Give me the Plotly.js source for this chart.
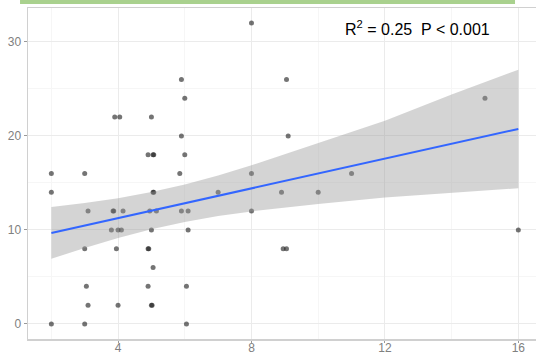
<!DOCTYPE html>
<html>
<head>
<meta charset="utf-8">
<script src="https://cdn.plot.ly/plotly-3.0.1.min.js"></script>
<style>html,body{margin:0;padding:0;background:#fff;}#chart{width:536px;height:354px;}</style>
</head>
<body>
<div id="chart"></div>
<script>
// Scatter points (x, y)
const pointX = [2, 2, 2, 3, 3, 3.05, 3, 3.1, 3.1, 3.85, 3.87, 4.15, 3.9, 4.05, 3.8, 4.0, 4.1, 3.95, 4.0,
  4.9, 5.05, 5.07, 5.0, 4.95, 5.15, 5.05, 5.07, 5.0, 4.9, 4.92, 5.05, 4.9, 5.0, 5.02,
  5.85, 5.9, 6.0, 5.9, 6.0, 5.9, 6.1, 6.1, 6.05, 6.05, 7, 8, 8, 8, 8.9, 9.05, 9.1, 8.95, 9.05, 10, 11, 15, 16];
const pointY = [16, 14, 0, 16, 8, 4, 0, 12, 2, 12, 12, 12, 22, 22, 10, 10, 10, 8, 2,
  18, 18, 18, 22, 12, 12, 14, 14, 10, 8, 8, 6, 4, 2, 2,
  16, 26, 24, 20, 18, 12, 12, 10, 4, 0, 14, 32, 16, 12, 14, 26, 20, 8, 8, 14, 16, 24, 10];

// Fitted line and confidence band
const fitX = [2, 3, 4, 5, 6, 7, 8, 10, 12, 14, 16];
const fitY = [9.68, 10.47, 11.26, 12.05, 12.84, 13.63, 14.42, 16.0, 17.58, 19.16, 20.74];
const bandUpper = [12.43, 12.86, 13.38, 14.03, 14.83, 15.79, 16.87, 19.25, 21.6, 24.4, 27.04];
const bandLower = [6.93, 8.08, 9.14, 10.07, 10.85, 11.47, 11.97, 12.75, 13.45, 13.95, 14.44];

const xTicks = [4, 8, 12, 16];
const yTicks = [0, 10, 20, 30];
const statLabel = 'R<sup>2</sup> = 0.25  P < 0.001';

const traces = [
  {
    x: pointX, y: pointY, type: 'scatter', mode: 'markers',
    marker: {size: 5, color: 'rgba(30,30,30,0.62)'},
    hoverinfo: 'skip', showlegend: false
  },
  {
    x: fitX.concat(fitX.slice().reverse()),
    y: bandUpper.concat(bandLower.slice().reverse()),
    type: 'scatter', mode: 'lines', fill: 'toself',
    fillcolor: 'rgba(153,153,153,0.42)', line: {width: 0, color: 'rgba(0,0,0,0)'},
    hoverinfo: 'skip', showlegend: false
  },
  {
    x: fitX, y: fitY, type: 'scatter', mode: 'lines',
    line: {color: '#3366FF', width: 2},
    hoverinfo: 'skip', showlegend: false
  }
];

const layout = {
  width: 536, height: 354,
  margin: {l: 28, r: 0, t: 8, b: 15, pad: 0},
  paper_bgcolor: '#ffffff', plot_bgcolor: '#ffffff',
  showlegend: false,
  font: {family: 'Liberation Sans, Arial, sans-serif'},
  xaxis: {
    range: [1.3, 16.53], tickvals: xTicks, ticktext: xTicks.map(String),
    showgrid: true, gridcolor: '#ebebeb', gridwidth: 1,
    minor: {dtick: 2, tick0: 0, showgrid: true, gridcolor: '#f6f6f6', gridwidth: 1, ticks: ''},
    zeroline: false, showline: true, linecolor: '#d0d0d0', linewidth: 1.5, mirror: true,
    ticks: 'outside', ticklen: 2, tickcolor: '#999999', tickwidth: 1,
    ticklabelstandoff: -5,
    tickfont: {size: 12, color: '#808080'}
  },
  yaxis: {
    range: [-1.6, 33.6], tickvals: yTicks, ticktext: yTicks.map(String),
    showgrid: true, gridcolor: '#ebebeb', gridwidth: 1,
    minor: {dtick: 5, tick0: 0, showgrid: true, gridcolor: '#f6f6f6', gridwidth: 1, ticks: ''},
    zeroline: false, showline: true, linecolor: '#d0d0d0', linewidth: 1.5, mirror: true,
    ticks: 'outside', ticklen: 3, tickcolor: '#999999', tickwidth: 1,
    tickfont: {size: 12, color: '#808080'}
  },
  shapes: [
    {type: 'rect', xref: 'paper', yref: 'paper', x0: -0.0157, x1: 0.9587, y0: 1.0121, y1: 1.03,
     fillcolor: '#a9d18e', line: {width: 0}, layer: 'above'}
  ],
  annotations: [
    {text: statLabel, xref: 'paper', yref: 'paper', x: 0.6205, y: 0.94, xanchor: 'left', yanchor: 'middle',
     showarrow: false, font: {size: 16, color: '#000000', family: 'Liberation Sans, Arial, sans-serif'}}
  ]
};

Plotly.newPlot('chart', traces, layout, {staticPlot: true, displayModeBar: false});
</script>
</body>
</html>
